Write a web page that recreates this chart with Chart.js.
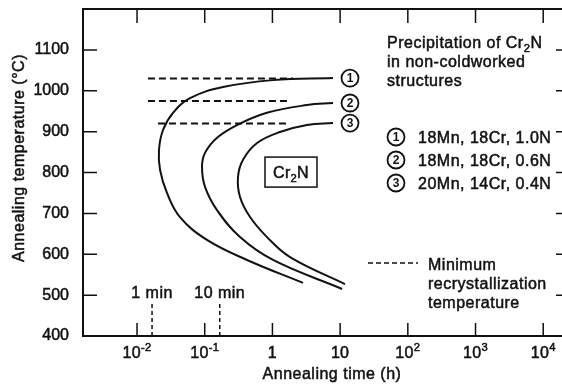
<!DOCTYPE html>
<html>
<head>
<meta charset="utf-8">
<script src="https://cdn.jsdelivr.net/npm/chart.js@4.4.0/dist/chart.umd.min.js"></script>
<style>
  html, body { margin: 0; padding: 0; background: #fff; overflow: hidden; }
  #wrap { width: 580px; height: 385px; position: relative; }
</style>
</head>
<body>
<div id="wrap"><canvas id="c"></canvas></div>
<script>
// C-curves for Cr2N precipitation: annealing time (h) vs temperature (°C)
const curve1Time = [7.85, 1.02, 0.186, 0.0607, 0.034, 0.0242, 0.0211, 0.0219, 0.0277, 0.0431, 0.108, 0.422, 2.83];
const curve1Temp = [1031, 1026, 1009, 982, 946, 904, 855, 806, 750, 691, 635, 586, 530];
const curve2Time = [7.85, 3.24, 0.83, 0.30, 0.152, 0.101, 0.0912, 0.101, 0.152, 0.332, 1.02, 10.7];
const curve2Temp = [970, 965, 946, 916, 885, 848, 814, 765, 708, 642, 586, 515];
const curve3Time = [7.85, 3.24, 1.29, 0.593, 0.368, 0.31, 0.332, 0.467, 0.832, 1.82, 11.8];
const curve3Temp = [921, 916, 899, 872, 831, 789, 740, 691, 642, 593, 527];

// minimum recrystallization temperature per alloy
const recrystTemp = [1030, 975, 920];
const recrystFrom = [0.0145, 0.0145, 0.0204];
const recrystTo = [2.0, 1.65, 1.65];

// 1 min and 10 min markers (in hours)
const minuteTimes = [1 / 60, 10 / 60];
const minuteLabels = ['1 min', '10 min'];
const minuteTop = 480;

const timeExponents = [-2, -1, 0, 1, 2, 3, 4];
const tempTicks = [400, 500, 600, 700, 800, 900, 1000, 1100];

const alloyLabels = ['18Mn, 18Cr, 1.0N', '18Mn, 18Cr, 0.6N', '20Mn, 14Cr, 0.4N'];
const phaseLabelAt = { x: 1.88, y: 801 };

const INK = '#111';
const FONT = '"Liberation Sans", Arial, sans-serif';
const TEXT_STROKE = 0.5;

const pts = (xs, ys) => xs.map((x, i) => ({ x: x, y: ys[i] }));

const datasets = [];
[[curve1Time, curve1Temp], [curve2Time, curve2Temp], [curve3Time, curve3Temp]].forEach(c => {
  datasets.push({
    data: pts(c[0], c[1]),
    borderColor: INK, borderWidth: 2, tension: 0.4,
    pointRadius: 0, fill: false
  });
});
recrystTemp.forEach((t, i) => {
  datasets.push({
    data: [{ x: recrystFrom[i], y: t }, { x: recrystTo[i], y: t }],
    borderColor: INK, borderWidth: 2, borderDash: [7, 4],
    pointRadius: 0, fill: false, tension: 0
  });
});
minuteTimes.forEach(m => {
  datasets.push({
    data: [{ x: m, y: 400 }, { x: m, y: minuteTop }],
    borderColor: INK, borderWidth: 1.5, borderDash: [4, 3],
    pointRadius: 0, fill: false, tension: 0
  });
});

// slightly heavier text than the plain regular face
function ink(ctx, s, x, y) {
  ctx.fillText(s, x, y);
  ctx.lineWidth = TEXT_STROKE;
  ctx.strokeText(s, x, y);
}

function circled(ctx, x, y, n) {
  ctx.beginPath();
  ctx.arc(x, y, 8.5, 0, Math.PI * 2);
  ctx.lineWidth = 1.8;
  ctx.strokeStyle = INK;
  ctx.stroke();
  ctx.font = 'bold 12px ' + FONT;
  ctx.letterSpacing = '0px';
  ctx.textAlign = 'center';
  ctx.textBaseline = 'middle';
  ctx.fillText(String(n), x, y + 0.5);
}

// draws text with a sub/superscript part: parts = [[text, shift], ...]
function richText(ctx, parts, x, y, size, align) {
  let w = 0;
  parts.forEach(p => {
    ctx.font = (p[1] ? size * 0.7 : size) + 'px ' + FONT;
    w += ctx.measureText(p[0]).width;
  });
  let cx = align === 'center' ? x - w / 2 : x;
  ctx.textAlign = 'left';
  parts.forEach(p => {
    ctx.font = (p[1] ? size * 0.7 : size) + 'px ' + FONT;
    ink(ctx, p[0], cx, y + p[1]);
    cx += ctx.measureText(p[0]).width;
  });
}

const decorations = {
  id: 'decorations',
  afterDraw(chart) {
    const ctx = chart.ctx;
    const a = chart.chartArea;
    const xs = chart.scales.x, ys = chart.scales.y;
    ctx.save();
    ctx.fillStyle = INK;
    ctx.strokeStyle = INK;

    // frame
    ctx.lineWidth = 2;
    ctx.strokeRect(a.left, a.top, a.right - a.left, a.bottom - a.top);

    // inward tick marks
    ctx.lineWidth = 1.5;
    ctx.beginPath();
    timeExponents.forEach(e => {
      const px = xs.getPixelForValue(Math.pow(10, e));
      ctx.moveTo(px, a.bottom); ctx.lineTo(px, a.bottom - 13);
      ctx.moveTo(px, a.top); ctx.lineTo(px, a.top + 14);
    });
    tempTicks.slice(1).forEach(t => {
      const py = ys.getPixelForValue(t);
      ctx.moveTo(a.left, py); ctx.lineTo(a.left + 14, py);
      ctx.moveTo(a.right, py); ctx.lineTo(a.right - 12, py);
    });
    ctx.stroke();

    // time tick labels as powers of ten
    ctx.textBaseline = 'alphabetic';
    ctx.letterSpacing = '0.3px';
    timeExponents.forEach(e => {
      const px = xs.getPixelForValue(Math.pow(10, e));
      let parts;
      if (e === 0) parts = [['1', 0]];
      else if (e === 1) parts = [['10', 0]];
      else parts = [['10', 0], [String(e), -7]];
      richText(ctx, parts, px, 358, 16, 'center');
    });

    // axis titles
    ctx.letterSpacing = '0.5px';
    ctx.font = '16px ' + FONT;
    ctx.textAlign = 'center';
    ink(ctx, 'Annealing time (h)', 332, 379);
    ctx.save();
    ctx.translate(24, 158);
    ctx.rotate(-Math.PI / 2);
    ink(ctx, 'Annealing temperature (°C)', 0, 0);
    ctx.restore();

    // minute marker labels
    minuteTimes.forEach((m, i) => {
      ctx.font = '16px ' + FONT;
      ctx.textAlign = 'center';
      ink(ctx, minuteLabels[i], xs.getPixelForValue(m), 298);
    });

    // circled curve numbers at the upper ends
    [curve1Time, curve2Time, curve3Time].forEach((c, i) => {
      const temps = [curve1Temp, curve2Temp, curve3Temp][i];
      circled(ctx, xs.getPixelForValue(c[0]) + 17, ys.getPixelForValue(temps[0]), i + 1);
    });

    // phase label box
    const bx = xs.getPixelForValue(phaseLabelAt.x), by = ys.getPixelForValue(phaseLabelAt.y);
    ctx.lineWidth = 1.5;
    ctx.strokeRect(bx - 26, by - 15, 52, 30);
    ctx.letterSpacing = '0.3px';
    ctx.textBaseline = 'alphabetic';
    richText(ctx, [['Cr', 0], ['2', 4], ['N', 0]], bx, by + 6, 16, 'center');

    // heading
    ctx.letterSpacing = '0.5px';
    richText(ctx, [['Precipitation of Cr', 0], ['2', 4], ['N', 0]], 387, 48, 16, 'left');
    ctx.font = '16px ' + FONT;
    ctx.textAlign = 'left';
    ink(ctx, 'in non-coldworked', 387, 67);
    ink(ctx, 'structures', 387, 86);

    // alloy key
    const keyBase = [143, 166, 189];
    alloyLabels.forEach((s, i) => {
      circled(ctx, 396, keyBase[i] - 6, i + 1);
      ctx.font = '16px ' + FONT;
      ctx.letterSpacing = '0.5px';
      ctx.textAlign = 'left';
      ctx.textBaseline = 'alphabetic';
      ink(ctx, s, 418, keyBase[i]);
    });

    // dashed line key
    ctx.lineWidth = 1.5;
    ctx.setLineDash([5, 3]);
    ctx.beginPath();
    ctx.moveTo(368, 263); ctx.lineTo(418, 263);
    ctx.stroke();
    ctx.setLineDash([]);
    ctx.font = '16px ' + FONT;
    ctx.textAlign = 'left';
    ink(ctx, 'Minimum', 428, 270);
    ink(ctx, 'recrystallization', 428, 289);
    ink(ctx, 'temperature', 428, 308);

    ctx.restore();
  }
};

new Chart(document.getElementById('c'), {
  type: 'line',
  data: { datasets: datasets },
  plugins: [decorations],
  options: {
    responsive: true,
    maintainAspectRatio: false,
    animation: false,
    layout: { padding: { top: 9, right: 12, left: 0, bottom: 0 } },
    plugins: { legend: { display: false }, tooltip: { enabled: false } },
    scales: {
      x: {
        type: 'logarithmic',
        min: Math.pow(10, -2.798),
        max: Math.pow(10, 4.366),
        grid: { display: false },
        border: { display: true, color: INK, width: 2 },
        ticks: { display: false },
        afterFit: s => { s.height = 49; }
      },
      y: {
        min: 400,
        max: 1200,
        grid: { display: false },
        border: { display: true, color: INK, width: 2 },
        afterBuildTicks: s => { s.ticks = tempTicks.map(v => ({ value: v })); },
        ticks: {
          color: INK,
          padding: 6,
          font: { size: 16, family: FONT },
          textStrokeColor: INK,
          textStrokeWidth: TEXT_STROKE,
          callback: v => String(v)
        },
        afterFit: s => { s.width = 83; s.paddingTop = 0; s.paddingBottom = 0; }
      }
    }
  }
});
</script>
</body>
</html>
